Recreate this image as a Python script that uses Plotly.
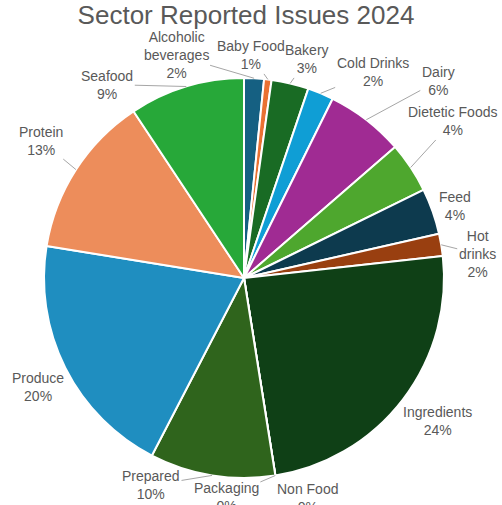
import math
import plotly.graph_objects as go

# Reported issues by sector, 2024 (counts)
sectors = ["Alcoholic beverages", "Baby Food", "Bakery", "Cold Drinks", "Dairy",
           "Dietetic Foods", "Feed", "Hot drinks", "Ingredients", "Non Food",
           "Packaging", "Prepared", "Produce", "Protein", "Seafood"]
issues = [16, 6, 30, 21, 63, 41, 37, 18, 242, 0, 0, 101, 199, 131, 93]

# Text shown for each sector name (line breaks as displayed)
label_text = ["Alcoholic<br>beverages", "Baby Food", "Bakery", "Cold Drinks", "Dairy",
              "Dietetic Foods", "Feed", "Hot<br>drinks", "Ingredients", "Non Food",
              "Packaging", "Prepared", "Produce", "Protein", "Seafood"]

colors = ["#156082", "#E97132", "#196B24", "#0F9ED5", "#A02B93", "#4EA72E",
          "#0D3A4E", "#993F10", "#0F4016", "#095E80", "#601A58", "#2F641C",
          "#1F8EC0", "#ED8D5B", "#27A839"]

# Label placement: pixel offset of each label from the slice's outer-edge midpoint,
# and whether a leader line is drawn
label_offsets = [(-78, -23), (-17, -24), (17, -24), (52, -21), (72, -39),
                 (42, -46), (22, -5), (36, 9), (34, 22), (32, 22),
                 (-49, 21), (-61, 10), (-27, 19), (-35, -29), (-79, -2)]
leader = [True, True, True, True, True, True, False, True, False, False,
          True, True, False, True, True]

W, H = 502, 505
CX, CY, R = 244, 278, 200  # pie centre and radius in pixels

dom_x = [(CX - R) / W, (CX + R) / W]
dom_y = [(H - CY - R) / H, (H - CY + R) / H]

fig = go.Figure(go.Pie(
    labels=sectors,
    values=issues,
    sort=False,
    direction="clockwise",
    rotation=0,
    marker=dict(colors=colors, line=dict(color="white", width=2)),
    textinfo="none",
    hoverinfo="label+percent",
    domain=dict(x=dom_x, y=dom_y),
    showlegend=False,
))

total = sum(issues)
cum = 0
annotations = []
for name, v, (dx, dy), line in zip(label_text, issues, label_offsets, leader):
    mid = (cum + v / 2) / total * 2 * math.pi
    cum += v
    px = CX + R * math.sin(mid)
    py = CY - R * math.cos(mid)
    pct = int(v / total * 100 + 0.5)
    annotations.append(dict(
        x=px / W, y=1 - py / H, xref="paper", yref="paper",
        text=f"{name}<br>{pct}%",
        showarrow=True, ax=dx, ay=dy, arrowhead=0, arrowwidth=1, standoff=0,
        arrowcolor="#A6A6A6" if line else "rgba(0,0,0,0)",
        font=dict(family="Liberation Sans, Arial, sans-serif", size=14, color="#595959"),
        align="center",
    ))

fig.update_layout(
    width=W, height=H,
    margin=dict(l=0, r=0, t=0, b=0),
    paper_bgcolor="white",
    plot_bgcolor="white",
    title=dict(
        text="Sector Reported Issues 2024",
        x=246 / W, xanchor="center", y=1 - 15 / H, yanchor="middle",
        font=dict(family="Liberation Sans, Arial, sans-serif", size=26, color="#595959"),
    ),
    annotations=annotations,
)

fig.write_html("out.html")
